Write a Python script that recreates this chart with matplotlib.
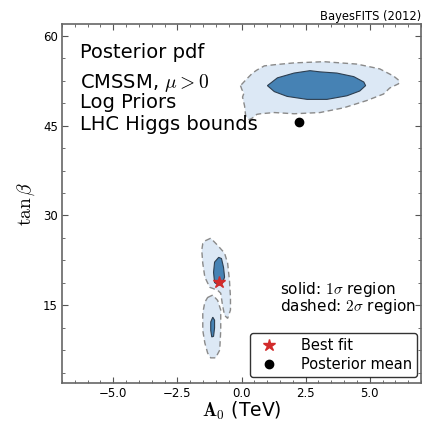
import numpy as np
import matplotlib
matplotlib.use("Agg")
import matplotlib.pyplot as plt
from matplotlib.ticker import MultipleLocator, AutoMinorLocator

plt.rcParams["mathtext.fontset"] = "cm"

# contour outlines (A0 in TeV, tan beta)
upper_2s_a0 = [-0.04, 0.02, 0.10, 0.04, 0.12, 0.16, 0.30, 0.43, 0.60, 0.74, 1.28, 2.05, 3.06,
               3.99, 4.88, 5.54, 5.78, 6.12, 6.16, 5.93, 5.39, 4.50, 3.22, 2.05, 1.30,
               0.89, 0.60, 0.43, 0.20]
upper_2s_tb = [51.7, 51.0, 50.5, 49.8, 48.3, 46.7, 46.0, 46.3, 46.9, 47.0, 47.2, 47.0, 47.2,
               48.0, 49.2, 50.3, 51.3, 52.0, 52.5, 53.3, 54.5, 55.3, 55.7, 55.5, 55.2,
               55.0, 54.3, 53.8, 52.8]
upper_1s_a0 = [1.01, 1.40, 2.05, 2.67, 3.06, 3.72, 4.38, 4.77, 4.84, 4.61, 4.11, 3.33,
               2.56, 1.78, 1.28]
upper_1s_tb = [51.7, 53.0, 53.8, 54.2, 54.0, 53.8, 53.2, 52.3, 51.7, 50.8, 50.0, 49.4,
               49.4, 49.9, 50.7]

mid_2s_a0 = [-1.40, -1.20, -0.93, -0.66, -0.54, -0.47, -0.43, -0.43, -0.54, -0.66, -0.74,
             -0.81, -0.93, -1.24, -1.43, -1.51, -1.55, -1.51]
mid_2s_tb = [25.8, 26.2, 25.0, 23.7, 22.0, 19.2, 16.3, 14.2, 12.8, 13.3, 15.0,
             17.0, 17.5, 18.0, 19.7, 22.0, 24.2, 25.3]
mid_1s_a0 = [-1.05, -0.89, -0.78, -0.70, -0.66, -0.74, -0.89, -1.05, -1.09]
mid_1s_tb = [22.2, 23.0, 22.8, 21.3, 19.7, 18.7, 18.3, 18.8, 20.5]

low_2s_a0 = [-1.32, -1.12, -0.93, -0.81, -0.81, -0.85, -1.01, -1.20, -1.32, -1.43,
             -1.51, -1.51, -1.43]
low_2s_tb = [16.3, 16.7, 15.8, 14.2, 10.8, 7.5, 6.2, 6.2, 7.0, 8.7,
             10.8, 13.7, 15.5]
low_1s_a0 = [-1.12, -1.05, -1.05, -1.09, -1.16, -1.20, -1.20]
low_1s_tb = [13.0, 12.5, 11.2, 9.8, 9.7, 10.8, 12.2]

best_fit = (-0.89, 18.8)
post_mean = (2.25, 45.7)

fig = plt.figure(figsize=(4.23, 4.24), dpi=100)
ax = fig.add_axes([62/423, 41/424, 359/423, 359/424])

outer = [(upper_2s_a0, upper_2s_tb), (mid_2s_a0, mid_2s_tb), (low_2s_a0, low_2s_tb)]
inner = [(upper_1s_a0, upper_1s_tb), (mid_1s_a0, mid_1s_tb), (low_1s_a0, low_1s_tb)]

for xs, ys in outer:
    ax.fill(xs, ys, facecolor="#dce8f5", edgecolor="#8a8a8a", lw=1.0, ls=(0, (4, 2.5)))
for xs, ys in inner:
    ax.fill(xs, ys, facecolor="#4682b4", edgecolor="#2d3e50", lw=0.8)

ax.plot(*best_fit, marker="*", color="#d22b2b", ms=9, ls="none", label="Best fit")
ax.plot(*post_mean, marker="o", color="black", ms=6, ls="none", label="Posterior mean")

ax.set_xlim(-7, 7)
ax.set_ylim(2, 62)
ax.xaxis.set_major_locator(MultipleLocator(2.5))
ax.xaxis.set_minor_locator(AutoMinorLocator(5))
ax.yaxis.set_major_locator(MultipleLocator(15))
ax.yaxis.set_minor_locator(AutoMinorLocator(4))
ax.tick_params(which="both", direction="in", top=True, right=True, colors="#555555",
               labelcolor="black", labelsize=8.5)
ax.tick_params(which="major", length=4, pad=3)
ax.tick_params(which="minor", length=2)
for sp in ax.spines.values():
    sp.set_color("#666666")
    sp.set_linewidth(1.2)

ax.set_xlabel(r"$\mathbf{A}_0$ (TeV)", fontsize=13.5, labelpad=0)
ax.set_ylabel(r"$\tan\beta$", fontsize=14, labelpad=4)

tx = ax.transAxes
ax.text(0.05, 0.905, "Posterior pdf", transform=tx, fontsize=14, va="baseline")
ax.text(0.05, 0.822, r"CMSSM, $\mu>0$", transform=tx, fontsize=14, va="baseline")
ax.text(0.05, 0.766, "Log Priors", transform=tx, fontsize=14, va="baseline")
ax.text(0.05, 0.705, "LHC Higgs bounds", transform=tx, fontsize=14, va="baseline")

ax.text(0.606, 0.248, r"solid: $1\sigma$ region", transform=tx, fontsize=11, va="baseline")
ax.text(0.606, 0.200, r"dashed: $2\sigma$ region", transform=tx, fontsize=11, va="baseline")

leg = ax.legend(loc="lower right", bbox_to_anchor=(0.988, 0.018), borderaxespad=0,
                fontsize=10.5, numpoints=1, frameon=True, fancybox=True,
                handletextpad=1.2, borderpad=0.3, labelspacing=0.3)
leg.get_frame().set_edgecolor("black")
leg.get_frame().set_linewidth(1.0)

fig.text(0.996, 1 - 20/424, "BayesFITS (2012)", ha="right", va="baseline", fontsize=8.3)

fig.savefig("out.png", dpi=100)
